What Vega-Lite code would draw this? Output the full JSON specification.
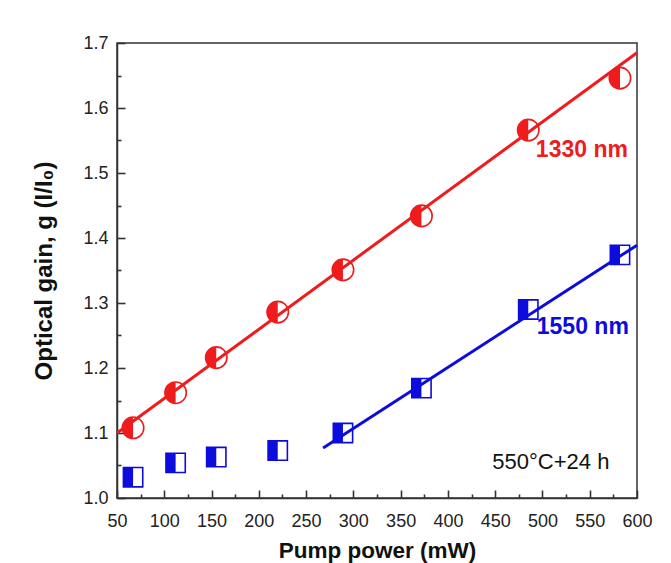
{
  "$schema": "https://vega.github.io/schema/vega-lite/v6.json",
  "width": 520,
  "height": 455,
  "autosize": "none",
  "padding": {"left": 117, "top": 43, "right": 34, "bottom": 65},
  "background": "white",
  "config": {
    "view": {"stroke": "#333333", "strokeWidth": 1.5},
    "font": "Liberation Sans",
    "axis": {
      "grid": false,
      "domainColor": "#333333",
      "domainWidth": 1.5,
      "tickColor": "#333333",
      "tickWidth": 1.6,
      "labelFont": "Liberation Sans",
      "labelFontSize": 18,
      "labelColor": "#222222",
      "titleFont": "Liberation Sans",
      "titleFontWeight": "bold",
      "titleColor": "#111111",
      "labelFlush": false,
      "labelOverlap": false
    }
  },
  "datasets": {
    "gain": [
      {"power": 67, "gain": 1.108, "band": "1330 nm"},
      {"power": 112, "gain": 1.162, "band": "1330 nm"},
      {"power": 155, "gain": 1.216, "band": "1330 nm"},
      {"power": 220, "gain": 1.286, "band": "1330 nm"},
      {"power": 289, "gain": 1.351, "band": "1330 nm"},
      {"power": 372, "gain": 1.434, "band": "1330 nm"},
      {"power": 485, "gain": 1.566, "band": "1330 nm"},
      {"power": 582, "gain": 1.646, "band": "1330 nm"},
      {"power": 67, "gain": 1.032, "band": "1550 nm"},
      {"power": 112, "gain": 1.054, "band": "1550 nm"},
      {"power": 155, "gain": 1.063, "band": "1550 nm"},
      {"power": 220, "gain": 1.073, "band": "1550 nm"},
      {"power": 289, "gain": 1.100, "band": "1550 nm"},
      {"power": 372, "gain": 1.169, "band": "1550 nm"},
      {"power": 485, "gain": 1.290, "band": "1550 nm"},
      {"power": 582, "gain": 1.374, "band": "1550 nm"}
    ],
    "fits": [
      {"power": 50, "gain": 1.100, "band": "1330 nm"},
      {"power": 600, "gain": 1.685, "band": "1330 nm"},
      {"power": 268, "gain": 1.077, "band": "1550 nm"},
      {"power": 600, "gain": 1.389, "band": "1550 nm"}
    ],
    "bandLabels": [
      {"power": 493, "gain": 1.535, "band": "1330 nm"},
      {"power": 494, "gain": 1.263, "band": "1550 nm"}
    ],
    "condition": [
      {"power": 447, "gain": 1.055, "note": "550°C+24 h"}
    ]
  },
  "layer": [
    {
      "encoding": {
        "x": {
          "field": "power",
          "type": "quantitative",
          "scale": {"domain": [50, 600], "nice": false, "zero": false},
          "axis": {
            "title": "Pump power (mW)",
            "titleFontSize": 22.5,
            "titlePadding": 9,
            "values": [50, 100, 150, 200, 250, 300, 350, 400, 450, 500, 550, 600],
            "format": "d",
            "labelPadding": 22,
            "tickSize": -8
          }
        },
        "y": {
          "field": "gain",
          "type": "quantitative",
          "scale": {"domain": [1.0, 1.7], "nice": false, "zero": false},
          "axis": {
            "title": "Optical gain, g   (I/I₀)",
            "titleFontSize": 24,
            "titlePadding": 26,
            "values": [1.0, 1.1, 1.2, 1.3, 1.4, 1.5, 1.6, 1.7],
            "format": ".1f",
            "labelPadding": 17,
            "tickSize": -8
          }
        }
      },
      "layer": [
        {
          "data": {"name": "gain"},
          "mark": {"type": "point", "filled": true, "fill": "white", "strokeWidth": 1.6, "size": 460, "opacity": 1},
          "encoding": {
            "stroke": {"field": "band", "type": "nominal", "scale": {"domain": ["1330 nm", "1550 nm"], "range": ["#ee1c1c", "#0c0cdc"]}, "legend": null},
            "shape": {"field": "band", "type": "nominal", "scale": {"domain": ["1330 nm", "1550 nm"], "range": ["circle", "M-0.9,-0.9H0.9V0.9H-0.9Z"]}, "legend": null}
          }
        },
        {
          "data": {"name": "gain"},
          "mark": {"type": "point", "filled": true, "strokeWidth": 0, "size": 460, "opacity": 1},
          "encoding": {
            "fill": {"field": "band", "type": "nominal", "scale": {"domain": ["1330 nm", "1550 nm"], "range": ["#ee1c1c", "#0c0cdc"]}, "legend": null},
            "shape": {"field": "band", "type": "nominal", "scale": {"domain": ["1330 nm", "1550 nm"], "range": ["M0,-1A1,1 0 0,0 0,1Z", "M-0.9,-0.9H0V0.9H-0.9Z"]}, "legend": null}
          }
        },
        {
          "data": {"name": "fits"},
          "mark": {"type": "line", "strokeWidth": 3},
          "encoding": {
            "color": {"field": "band", "type": "nominal", "scale": {"domain": ["1330 nm", "1550 nm"], "range": ["#ee1c1c", "#0c0cdc"]}, "legend": null}
          }
        },
        {
          "data": {"name": "bandLabels"},
          "mark": {"type": "text", "align": "left", "baseline": "middle", "fontSize": 23, "fontWeight": "bold", "font": "Liberation Sans"},
          "encoding": {
            "text": {"field": "band"},
            "color": {"field": "band", "type": "nominal", "scale": {"domain": ["1330 nm", "1550 nm"], "range": ["#ee1c1c", "#0c0cdc"]}, "legend": null}
          }
        },
        {
          "data": {"name": "condition"},
          "mark": {"type": "text", "align": "left", "baseline": "middle", "fontSize": 22, "font": "Liberation Sans"},
          "encoding": {"text": {"field": "note"}, "color": {"value": "#111111"}}
        }
      ],
      "resolve": {"scale": {"shape": "independent"}}
    },
    {
      "data": {"name": "gain"},
      "mark": {"type": "point", "opacity": 0},
      "encoding": {
        "x": {
          "field": "power",
          "type": "quantitative",
          "scale": {"domain": [50, 600], "nice": false, "zero": false},
          "axis": {
            "orient": "bottom",
            "title": null,
            "labels": false,
            "domain": false,
            "values": [75, 125, 175, 225, 275, 325, 375, 425, 475, 525, 575],
            "tickSize": -4
          }
        },
        "y": {
          "field": "gain",
          "type": "quantitative",
          "scale": {"domain": [1.0, 1.7], "nice": false, "zero": false},
          "axis": {
            "orient": "left",
            "title": null,
            "labels": false,
            "domain": false,
            "values": [1.05, 1.15, 1.25, 1.35, 1.45, 1.55, 1.65],
            "tickSize": -4
          }
        }
      }
    }
  ],
  "resolve": {"axis": {"x": "independent", "y": "independent"}}
}
